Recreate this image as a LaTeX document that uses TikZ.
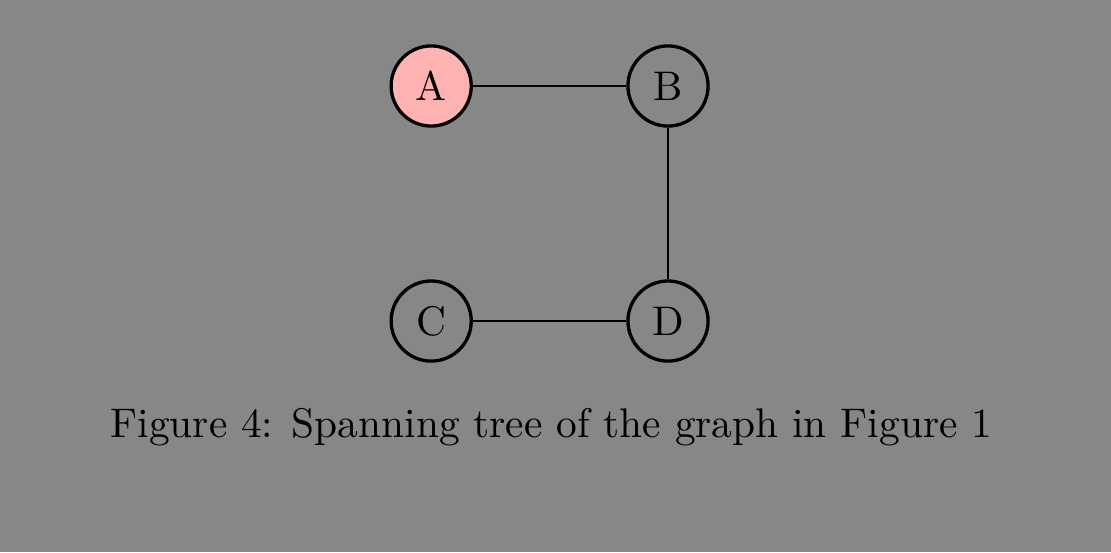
\documentclass[tikz,border=0pt]{standalone}
\usepackage{xcolor}
\usetikzlibrary{positioning}

\begin{document}
\begin{tikzpicture}[
  vertex/.style={draw, circle, thick, minimum size=6.8mm, inner sep=0pt},
  start/.style={vertex, fill=red!30},
  edge/.style={line width=0.5pt}]
  \fill[black!47] (0,0) rectangle (9.43,-4.686);
  \useasboundingbox (0,0) rectangle (9.43,-4.686);
  \node[start] (a) at (3.66,-0.73) {A};
  \node[vertex] (b) at (5.67,-0.73) {B};
  \node[vertex] (c) at (3.66,-2.725) {C};
  \node[vertex] (d) at (5.67,-2.725) {D};
  \node (cap) at (4.68,-3.63) {Figure 4: Spanning tree of the graph in Figure 1};
  \draw[edge] (a) -- (b);
  \draw[edge] (b) -- (d);
  \draw[edge] (c) -- (d);
\end{tikzpicture}
\end{document}
